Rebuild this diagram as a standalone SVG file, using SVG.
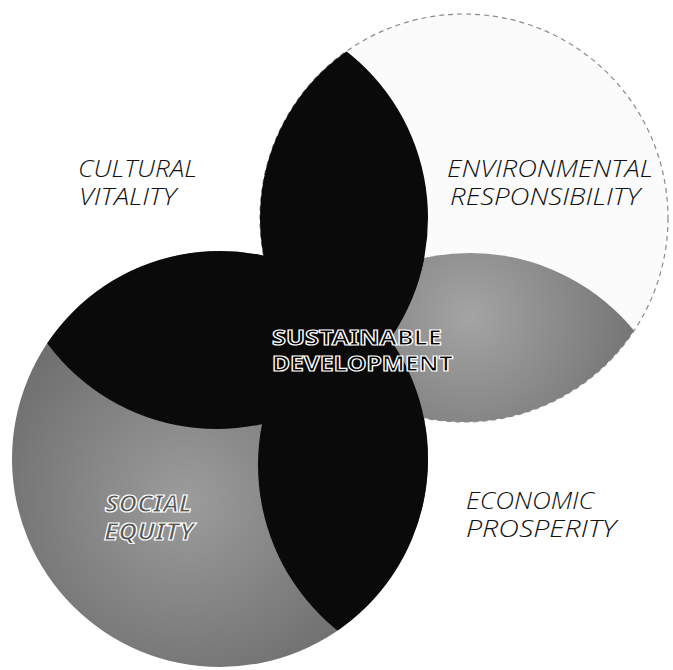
<svg xmlns="http://www.w3.org/2000/svg" width="673" height="670" viewBox="0 0 673 670">
<style>
.lbl{font-family:"Open Sans","Noto Sans","Liberation Sans",sans-serif;font-style:italic;font-weight:300;font-size:23px;fill:#111111;}
.out{font-family:"Noto Sans","Liberation Sans",sans-serif;font-style:italic;font-weight:700;font-size:23px;fill:#555555;stroke:#ffffff;stroke-width:1.2;}
.core{font-family:"Noto Sans","Liberation Sans",sans-serif;font-weight:700;font-size:21px;fill:#000000;stroke:#ffffff;stroke-width:1.2;}
.dark{fill:#0a0a0a;}
.gray{fill:url(#gSoc);}
.gray2{fill:url(#gEco);}
</style>
<defs>
<radialGradient id="gSoc" cx="0.42" cy="0.6" r="0.55">
<stop offset="0" stop-color="#9c9c9c"/>
<stop offset="1" stop-color="#6a6a6a"/>
</radialGradient>
<radialGradient id="gEco" cx="0.5" cy="0.15" r="0.6">
<stop offset="0" stop-color="#a4a4a4"/>
<stop offset="1" stop-color="#5c5c5c"/>
</radialGradient>
<clipPath id="clipEnv"><circle cx="464" cy="218" r="204"/></clipPath>
<clipPath id="clipSoc"><circle cx="220" cy="459" r="208"/></clipPath>
<clipPath id="clipEco"><circle cx="470" cy="465" r="212"/></clipPath>
</defs>
<rect width="673" height="670" fill="#ffffff"/>

<g id="environmental">
<circle cx="464" cy="218" r="204" fill="#fbfbfb" stroke="#8a8a8a" stroke-width="1.2" stroke-dasharray="5 4"/>
</g>
<g id="social">
<circle cx="220" cy="459" r="208" class="gray"/>
</g>
<g id="env-eco">
<circle cx="470" cy="465" r="212" class="gray2" clip-path="url(#clipEnv)"/>
</g>
<g id="overlaps">
<circle cx="217" cy="218" r="211" class="dark" clip-path="url(#clipEnv)"/>
<circle cx="217" cy="218" r="211" class="dark" clip-path="url(#clipSoc)"/>
<circle cx="470" cy="465" r="212" class="dark" clip-path="url(#clipSoc)"/>
<circle cx="217" cy="218" r="211" class="dark" clip-path="url(#clipEco)"/>
</g>

<g id="cultural-label">
<text class="lbl" x="78" y="177" textLength="119" lengthAdjust="spacingAndGlyphs">CULTURAL</text>
<text class="lbl" x="79" y="205" textLength="97" lengthAdjust="spacingAndGlyphs">VITALITY</text>
</g>
<g id="environmental-label">
<text class="lbl" x="447" y="177" textLength="206" lengthAdjust="spacingAndGlyphs">ENVIRONMENTAL</text>
<text class="lbl" x="450" y="205" textLength="190" lengthAdjust="spacingAndGlyphs">RESPONSIBILITY</text>
</g>
<g id="economic-label">
<text class="lbl" x="466" y="509" textLength="128" lengthAdjust="spacingAndGlyphs">ECONOMIC</text>
<text class="lbl" x="466" y="537" textLength="150" lengthAdjust="spacingAndGlyphs">PROSPERITY</text>
</g>
<g id="social-label">
<text class="out" x="105" y="512" textLength="87" lengthAdjust="spacingAndGlyphs">SOCIAL</text>
<text class="out" x="104" y="540" textLength="90" lengthAdjust="spacingAndGlyphs">EQUITY</text>
</g>
<g id="core-label">
<text class="core" x="272" y="345" textLength="170" lengthAdjust="spacingAndGlyphs">SUSTAINABLE</text>
<text class="core" x="272" y="371" textLength="181" lengthAdjust="spacingAndGlyphs">DEVELOPMENT</text>
</g>
</svg>
